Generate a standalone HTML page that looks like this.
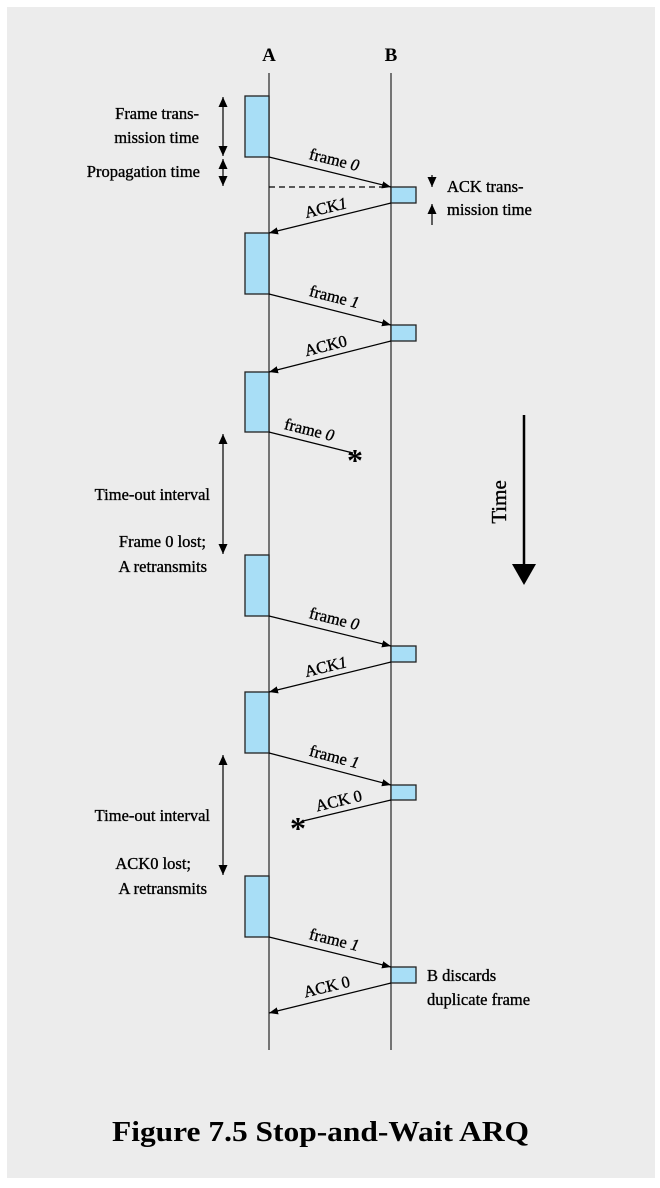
<!DOCTYPE html>
<html><head><meta charset="utf-8"><style>
html,body{margin:0;padding:0;background:#fff;}
svg{display:block;}
text{font-family:"Liberation Serif",serif;fill:#000;}
.h{stroke:#000;stroke-width:0.35;}
</style></head><body>
<svg width="660" height="1188" viewBox="0 0 660 1188" xmlns="http://www.w3.org/2000/svg">
<defs>
<marker id="ah" viewBox="0 0 10 10" refX="10" refY="5" markerWidth="9" markerHeight="9" markerUnits="userSpaceOnUse" orient="auto">
<path d="M0,1 L10,5 L0,9 z" fill="#000"/></marker>
<marker id="ds" viewBox="0 0 10 10" refX="10" refY="5" markerWidth="10" markerHeight="10" markerUnits="userSpaceOnUse" orient="auto-start-reverse">
<path d="M0,0.5 L10,5 L0,9.5 z" fill="#000"/></marker>
</defs>
<rect x="7" y="7" width="648" height="1171" fill="#ececec"/>
<text x="269" y="61" font-size="19" font-weight="bold" text-anchor="middle">A</text>
<text x="391" y="61" font-size="19" font-weight="bold" text-anchor="middle">B</text>
<line x1="269" y1="73" x2="269" y2="1050" stroke="#333" stroke-width="1.3"/>
<line x1="391" y1="73" x2="391" y2="1050" stroke="#333" stroke-width="1.3"/>
<g fill="#a8def6" stroke="#222" stroke-width="1.3">
<rect x="245" y="96" width="24" height="61"/>
<rect x="245" y="233" width="24" height="61"/>
<rect x="245" y="372" width="24" height="60"/>
<rect x="245" y="555" width="24" height="61"/>
<rect x="245" y="692" width="24" height="61"/>
<rect x="245" y="876" width="24" height="61"/>
<rect x="391" y="187" width="25" height="16"/>
<rect x="391" y="325" width="25" height="16"/>
<rect x="391" y="646" width="25" height="16"/>
<rect x="391" y="785" width="25" height="15"/>
<rect x="391" y="967" width="25" height="16"/>
</g>
<line x1="269" y1="187" x2="388" y2="187" stroke="#000" stroke-width="1.2" stroke-dasharray="6,4"/>
<g stroke="#000" stroke-width="1.2" marker-end="url(#ah)">
<line x1="269" y1="157" x2="391" y2="187"/>
<line x1="391" y1="203" x2="269" y2="233"/>
<line x1="269" y1="294" x2="391" y2="325"/>
<line x1="391" y1="341" x2="269" y2="372"/>
<line x1="269" y1="616" x2="391" y2="646"/>
<line x1="391" y1="662" x2="269" y2="692"/>
<line x1="269" y1="753" x2="391" y2="785"/>
<line x1="269" y1="937" x2="391" y2="967"/>
<line x1="391" y1="983" x2="269" y2="1013"/>
</g>
<line x1="269" y1="432" x2="353" y2="453" stroke="#000" stroke-width="1.2"/>
<line x1="391" y1="800" x2="303" y2="821" stroke="#000" stroke-width="1.2"/>
<text x="355" y="471" font-size="32" font-weight="bold" text-anchor="middle">*</text>
<text x="298" y="839" font-size="32" font-weight="bold" text-anchor="middle">*</text>
<g font-size="16.5" text-anchor="middle" class="h">
<text transform="translate(333,165) rotate(13.8)">frame <tspan font-style="italic">0</tspan></text>
<text transform="translate(327,213) rotate(-13.8)">ACK<tspan font-style="italic">1</tspan></text>
<text transform="translate(333,302) rotate(14.2)">frame <tspan font-style="italic">1</tspan></text>
<text transform="translate(327,351) rotate(-14.2)">ACK0</text>
<text transform="translate(308,435) rotate(14)">frame <tspan font-style="italic">0</tspan></text>
<text transform="translate(333,624) rotate(13.8)">frame <tspan font-style="italic">0</tspan></text>
<text transform="translate(327,672) rotate(-13.8)">ACK<tspan font-style="italic">1</tspan></text>
<text transform="translate(333,762) rotate(14.7)">frame <tspan font-style="italic">1</tspan></text>
<text transform="translate(340,806) rotate(-13.4)">ACK 0</text>
<text transform="translate(333,945) rotate(13.8)">frame <tspan font-style="italic">1</tspan></text>
<text transform="translate(328,992) rotate(-13.8)">ACK 0</text>
</g>
<g stroke="#000" stroke-width="1.2">
<line x1="223" y1="97" x2="223" y2="156" marker-start="url(#ds)" marker-end="url(#ds)"/>
<line x1="223" y1="159" x2="223" y2="186" marker-start="url(#ds)" marker-end="url(#ds)"/>
<line x1="223" y1="434" x2="223" y2="554" marker-start="url(#ds)" marker-end="url(#ds)"/>
<line x1="223" y1="755" x2="223" y2="875" marker-start="url(#ds)" marker-end="url(#ds)"/>
<line x1="432" y1="175" x2="432" y2="187" marker-end="url(#ds)"/>
<line x1="432" y1="225" x2="432" y2="204" marker-end="url(#ds)"/>
</g>
<g font-size="16.5" text-anchor="end" class="h">
<text x="199" y="119">Frame trans-</text>
<text x="199" y="143">mission time</text>
<text x="200" y="177">Propagation time</text>
<text x="210" y="500">Time-out interval</text>
<text x="206" y="547">Frame 0 lost;</text>
<text x="207" y="572">A retransmits</text>
<text x="210" y="821">Time-out interval</text>
<text x="191" y="869">ACK0 lost;</text>
<text x="207" y="894">A retransmits</text>
</g>
<g font-size="16.5" class="h">
<text x="447" y="192">ACK trans-</text>
<text x="447" y="215">mission time</text>
<text x="427" y="981">B discards</text>
<text x="427" y="1005">duplicate frame</text>
</g>
<line x1="524" y1="415" x2="524" y2="566" stroke="#000" stroke-width="2.5"/>
<path d="M512,564 L536,564 L524,585 z" fill="#000"/>
<text transform="translate(506,502) rotate(-90)" font-size="21" text-anchor="middle" class="h">Time</text>
<text x="112" y="1141" font-size="29" font-weight="bold" textLength="417" lengthAdjust="spacingAndGlyphs">Figure 7.5  Stop-and-Wait ARQ</text>
</svg>
</body></html>
